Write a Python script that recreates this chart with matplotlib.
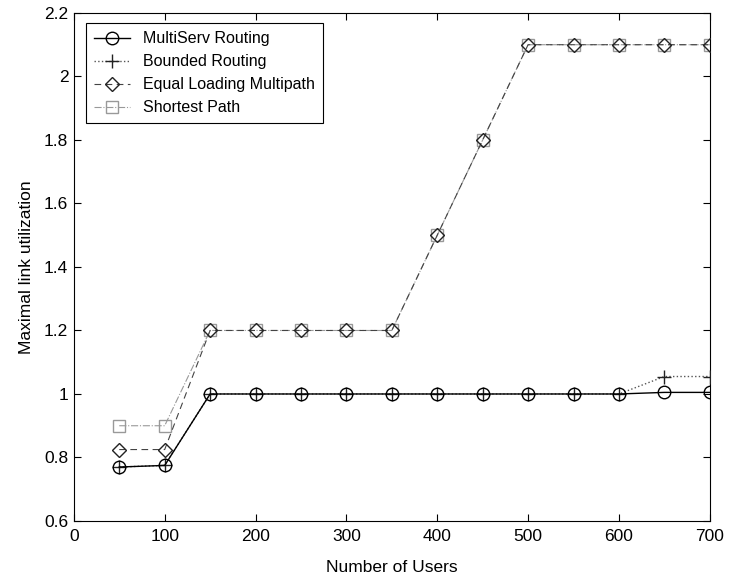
import numpy as np
import matplotlib
matplotlib.use('Agg')
import matplotlib.pyplot as plt

plt.rcParams['font.family'] = ['Liberation Sans', 'DejaVu Sans']

# Data
users = [50, 100, 150, 200, 250, 300, 350, 400, 450, 500, 550, 600, 650, 700]
multiserv = [0.77, 0.775, 1.0, 1.0, 1.0, 1.0, 1.0, 1.0, 1.0, 1.0, 1.0, 1.0, 1.005, 1.005]
bounded = [0.77, 0.775, 1.0, 1.0, 1.0, 1.0, 1.0, 1.0, 1.0, 1.0, 1.0, 1.0, 1.055, 1.055]
equal_loading = [0.825, 0.825, 1.2, 1.2, 1.2, 1.2, 1.2, 1.5, 1.8, 2.1, 2.1, 2.1, 2.1, 2.1]
shortest = [0.9, 0.9, 1.2, 1.2, 1.2, 1.2, 1.2, 1.5, 1.8, 2.1, 2.1, 2.1, 2.1, 2.1]

fig = plt.figure(figsize=(7.31, 5.76), dpi=100)
ax = fig.add_axes([0.101, 0.0955, 0.870, 0.882])

ax.plot(users, shortest, color='#999999', linestyle='-.', linewidth=0.8,
        marker='s', markersize=9, markerfacecolor='none', markeredgecolor='#999999',
        label='Shortest Path', zorder=2)
ax.plot(users, equal_loading, color='#444444', linestyle=(0, (6, 4)), linewidth=0.8,
        marker='D', markersize=7, markerfacecolor='none', markeredgecolor='#222222',
        label='Equal Loading Multipath', zorder=3)
ax.plot(users, bounded, color='#555555', linestyle=':', linewidth=1.0,
        marker='+', markersize=10, markeredgecolor='#222222',
        label='Bounded Routing', zorder=4)
ax.plot(users, multiserv, color='black', linestyle='-', linewidth=1.0,
        marker='o', markersize=9, markerfacecolor='none', markeredgecolor='black',
        label='MultiServ Routing', zorder=5)

ax.set_xlim(0, 700)
ax.set_ylim(0.6, 2.2)
ax.set_xticks(np.arange(0, 701, 100))
ax.set_yticks(np.arange(0.6, 2.21, 0.2))
ax.set_yticklabels(['0.6', '0.8', '1', '1.2', '1.4', '1.6', '1.8', '2', '2.2'])
ax.tick_params(direction='in', top=True, right=True, labelsize=12.5, length=5)
ax.tick_params(axis='x', pad=6)
ax.tick_params(axis='y', pad=4)
ax.set_xlabel('Number of Users', fontsize=12.5, labelpad=11)
ax.set_ylabel('Maximal link utilization', fontsize=12.5, labelpad=7)

handles, labels = ax.get_legend_handles_labels()
order = [3, 2, 1, 0]
leg = ax.legend([handles[i] for i in order], [labels[i] for i in order],
                loc='upper left', fontsize=11.5, frameon=True, fancybox=False,
                edgecolor='black', framealpha=1, borderpad=0.5, labelspacing=0.5,
                handlelength=2.3, bbox_to_anchor=(0.006, 0.995))
leg.get_frame().set_linewidth(0.8)

fig.savefig('out.png', dpi=100)
